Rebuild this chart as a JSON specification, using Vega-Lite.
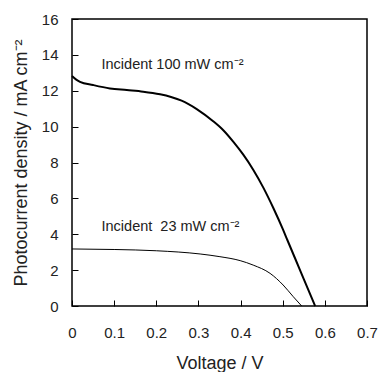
{
  "$schema": "https://vega.github.io/schema/vega-lite/v6.json",
  "autosize": {"type": "none"},
  "padding": {"left": 72, "top": 19, "right": 14, "bottom": 66},
  "width": 295,
  "height": 287,
  "background": "white",
  "config": {
    "font": "Liberation Sans",
    "view": {"stroke": "black", "strokeWidth": 1.5},
    "axis": {
      "grid": false,
      "domain": false,
      "ticks": true,
      "zindex": 1,
      "offset": -6,
      "tickColor": "black",
      "tickSize": 6,
      "tickWidth": 1,
      "labelOverlap": false,
      "labelFlush": false,
      "labelColor": "#222",
      "labelFont": "Liberation Sans",
      "labelFontSize": 15,
      "titleFont": "Liberation Sans",
      "titleFontSize": 18,
      "titleFontWeight": "normal",
      "titleColor": "#222"
    }
  },
  "encoding": {
    "x": {
      "field": "v", "type": "quantitative",
      "scale": {"domain": [0, 0.7], "nice": false},
      "axis": {"values": [0, 0.1, 0.2, 0.3, 0.4, 0.5, 0.6, 0.7], "format": "~g", "title": "Voltage / V", "labelPadding": 19, "titleY": 54, "zindex": 1}
    },
    "y": {
      "field": "j", "type": "quantitative",
      "scale": {"domain": [0, 16], "nice": false},
      "axis": {"values": [0, 2, 4, 6, 8, 10, 12, 14, 16], "title": "Photocurrent density / mA cm⁻²", "labelPadding": 14, "titleX": -57, "titleY": 143.5, "titleAlign": "center", "titleBaseline": "middle", "titleAngle": -90, "zindex": 1}
    }
  },
  "layer": [
    {
      "data": {
        "values": [
          {"v": 0, "j": 12.82, "s": "100"},
          {"v": 0.01, "j": 12.62, "s": "100"},
          {"v": 0.019, "j": 12.5, "s": "100"},
          {"v": 0.05, "j": 12.32, "s": "100"},
          {"v": 0.09, "j": 12.13, "s": "100"},
          {"v": 0.13, "j": 12.04, "s": "100"},
          {"v": 0.169, "j": 11.95, "s": "100"},
          {"v": 0.209, "j": 11.8, "s": "100"},
          {"v": 0.235, "j": 11.65, "s": "100"},
          {"v": 0.26, "j": 11.45, "s": "100"},
          {"v": 0.296, "j": 10.98, "s": "100"},
          {"v": 0.335, "j": 10.3, "s": "100"},
          {"v": 0.359, "j": 9.8, "s": "100"},
          {"v": 0.383, "j": 9.15, "s": "100"},
          {"v": 0.406, "j": 8.45, "s": "100"},
          {"v": 0.43, "j": 7.6, "s": "100"},
          {"v": 0.454, "j": 6.6, "s": "100"},
          {"v": 0.478, "j": 5.45, "s": "100"},
          {"v": 0.5, "j": 4.3, "s": "100"},
          {"v": 0.511, "j": 3.68, "s": "100"},
          {"v": 0.53, "j": 2.62, "s": "100"},
          {"v": 0.55, "j": 1.5, "s": "100"},
          {"v": 0.577, "j": 0, "s": "100"},
          {"v": 0, "j": 3.18, "s": "23"},
          {"v": 0.1, "j": 3.15, "s": "23"},
          {"v": 0.2, "j": 3.08, "s": "23"},
          {"v": 0.304, "j": 2.9, "s": "23"},
          {"v": 0.351, "j": 2.75, "s": "23"},
          {"v": 0.399, "j": 2.53, "s": "23"},
          {"v": 0.43, "j": 2.28, "s": "23"},
          {"v": 0.47, "j": 1.82, "s": "23"},
          {"v": 0.501, "j": 1.17, "s": "23"},
          {"v": 0.525, "j": 0.52, "s": "23"},
          {"v": 0.545, "j": 0, "s": "23"}
        ]
      },
      "mark": {"type": "line", "color": "black", "interpolate": "monotone"},
      "encoding": {
        "detail": {"field": "s"},
        "strokeWidth": {
          "field": "s", "type": "nominal",
          "scale": {"domain": ["100", "23"], "range": [2, 1]},
          "legend": null
        }
      }
    },
    {
      "data": {
        "values": [
          {"v": 0.07, "j": 13.43, "t": "Incident 100 mW cm⁻²"},
          {"v": 0.07, "j": 4.42, "t": "Incident\u00a0\u00a023 mW cm⁻²"}
        ]
      },
      "mark": {"type": "text", "align": "left", "baseline": "middle", "fontSize": 14.5, "font": "Liberation Sans", "color": "#222"},
      "encoding": {
        "text": {"field": "t"}
      }
    }
  ]
}
